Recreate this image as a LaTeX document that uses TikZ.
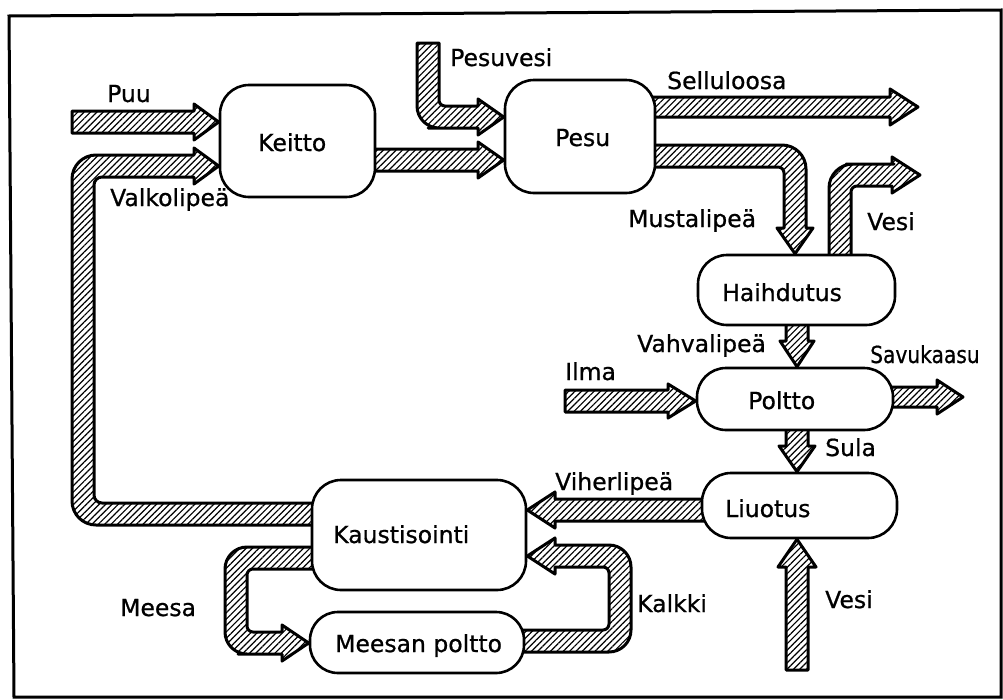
\documentclass[tikz,border=0pt]{standalone}
\usepackage{fontspec}
\setmainfont{DejaVu Sans}[RawFeature={embolden=0.8}]
\usetikzlibrary{patterns.meta,backgrounds}
\tikzset{
  band/.style={draw=black, line width=3pt, line join=round, pattern={Lines[angle=45,distance=4.5pt,line width=1.2pt]}},
  procbox/.style={draw=black, line width=2.6pt, fill=white, rounded corners=29pt, inner sep=0pt},
  lbl/.style={inner sep=0pt, anchor=base west, font=\fontsize{23.5}{28}\selectfont},
}
\begin{document}
\begin{tikzpicture}[x=1pt,y=-1pt]
\useasboundingbox (0,0) rectangle (1003,699);
% frame
\draw[line width=3pt] (9,16) -- (1001,10) -- (1001,697) -- (14,697) -- cycle;

% process boxes
\node[procbox, minimum width=155pt, minimum height=112pt] (kei) at (297.5,141) {};
\node[procbox, minimum width=150pt, minimum height=113pt] (pes) at (580,136.5) {};
\node[procbox, minimum width=197pt, minimum height=70pt] (hai) at (796.5,290) {};
\node[procbox, minimum width=196pt, minimum height=62pt] (pol) at (795,399) {};
\node[procbox, minimum width=195pt, minimum height=65pt] (liu) at (799.5,505.5) {};
\node[procbox, minimum width=214pt, minimum height=110pt] (kau) at (419,535) {};
\node[procbox, minimum width=214pt, minimum height=61pt, rounded corners=28pt] (mee) at (417,642.5) {};

% box texts
\node[lbl] (tkei) at (258,151) {Keitto};
\node[lbl] (tpes) at (555,146) {Pesu};
\node[lbl] (thai) at (722,301) {Haihdutus};
\node[lbl] (tpol) at (748,409) {Poltto};
\node[lbl] (tliu) at (725,517) {Liuotus};
\node[lbl] (tkau) at (333,543) {Kaustisointi};
\node[lbl] (tmee) at (335,652) {Meesan poltto};

% flow labels
\node[lbl] (lpuu) at (107,102) {Puu};
\node[lbl] (lval) at (110,206) {Valkolipeä};
\node[lbl] (lpsv) at (450,66) {Pesuvesi};
\node[lbl] (lsel) at (667,89) {Selluloosa};
\node[lbl] (lmus) at (628,227) {Mustalipeä};
\node[lbl] (lves1) at (867,230) {Vesi};
\node[lbl] (lvah) at (637,352) {Vahvalipeä};
\node[lbl] (lilm) at (565,380) {Ilma};
\node[lbl] (lsav) at (870,363) {\scalebox{0.86}[1]{Savukaasu}};
\node[lbl] (lsul) at (825,456) {Sula};
\node[lbl] (lvih) at (555,490) {Viherlipeä};
\node[lbl] (lves2) at (825,608) {Vesi};
\node[lbl] (lmee) at (120,616) {Meesa};
\node[lbl] (lkal) at (637,612) {Kalkki};

% free ends
\coordinate (puuIn) at (72,122);
\coordinate (sellOut) at (918,107);
\coordinate (vesiOut) at (920,175);
\coordinate (ilmaIn) at (565,401);
\coordinate (savOut) at (963,397);
\coordinate (vesiIn) at (797,670);
\coordinate (pesvIn) at (428,43);

\begin{scope}[on background layer]
% Puu
\draw[band] (puuIn |- 0,111) -- (194,111) -- (194,104) -- (kei.west |- 0,122) -- (194,140) -- (194,133) -- (puuIn |- 0,133) -- cycle;
% Valkolipea
\draw[band] (322,503) -- (200,503) [rounded corners=8pt] -- (94,503) -- (94,177) -- (150,177) [sharp corners] -- (194,177) -- (194,184) -- (kei.west |- 0,166) -- (194,148) -- (194,155) -- (150,155) [rounded corners=24pt] -- (72,155) -- (72,525) -- (200,525) [sharp corners] -- (322,525) -- cycle;
% Keitto -> Pesu
\draw[band] (365,149) -- (478,149) -- (478,142) -- (pes.west |- 0,160) -- (478,178) -- (478,171) -- (365,171) -- cycle;
% Pesuvesi
\draw[band] (417,0 |- pesvIn) -- (417,80) [rounded corners=22pt] -- (417,128) -- (450,128) [sharp corners] -- (478,128) -- (478,135) -- (pes.west |- 0,117) -- (478,99) -- (478,106) -- (460,106) [rounded corners=6pt] -- (439,106) -- (439,80) [sharp corners] -- (439,0 |- pesvIn) -- cycle;
% Selluloosa
\draw[band] (645,97) -- (890,97) -- (890,89) -- (sellOut) -- (890,125) -- (890,117) -- (645,117) -- cycle;
% Mustalipea
\draw[band] (645,145) -- (750,145) [rounded corners=24pt] -- (806,145) -- (806,200) [sharp corners] -- (806,228) -- (813,228) -- (795,0 |- hai.north) -- (777,228) -- (784,228) -- (784,200) [rounded corners=6pt] -- (784,167) -- (750,167) [sharp corners] -- (645,167) -- cycle;
% Vesi (haihdutus)
\draw[band] (829,265) -- (829,220) [rounded corners=24pt] -- (829,164) -- (870,164) [sharp corners] -- (892,164) -- (892,157) -- (vesiOut) -- (892,193) -- (892,186) -- (870,186) [rounded corners=6pt] -- (851,186) -- (851,220) [sharp corners] -- (851,265) -- cycle;
% Vahvalipea
\draw[band] (786,315) -- (786,341) -- (780,341) -- (797,0 |- pol.north) -- (814,341) -- (808,341) -- (808,315) -- cycle;
% Ilma
\draw[band] (ilmaIn |- 0,390) -- (668,390) -- (668,384) -- (pol.west |- 0,401) -- (668,418) -- (668,412) -- (ilmaIn |- 0,412) -- cycle;
% Savukaasu
\draw[band] (883,387) -- (937,387) -- (937,380) -- (savOut) -- (937,414) -- (937,407) -- (883,407) -- cycle;
% Sula
\draw[band] (786,420) -- (786,446) -- (779,446) -- (797,0 |- liu.north) -- (815,446) -- (808,446) -- (808,420) -- cycle;
% Viherlipea
\draw[band] (712,499) -- (555,499) -- (555,492) -- (kau.east |- 0,510) -- (555,528) -- (555,521) -- (712,521) -- cycle;
% Vesi (liuotus)
\draw[band] (786,0 |- vesiIn) -- (786,567) -- (778,567) -- (797,0 |- liu.south) -- (816,567) -- (808,567) -- (808,0 |- vesiIn) -- cycle;
% Meesa
\draw[band] (320,547) -- (280,547) [rounded corners=22pt] -- (225,547) -- (225,654) -- (260,654) [sharp corners] -- (282,654) -- (282,661) -- (mee.west |- 0,643) -- (282,625) -- (282,632) -- (265,632) [rounded corners=6pt] -- (247,632) -- (247,569) -- (280,569) [sharp corners] -- (320,569) -- cycle;
% Kalkki
\draw[band] (516,630) -- (590,630) [rounded corners=6pt] -- (609,630) -- (609,567) -- (590,567) [sharp corners] -- (555,567) -- (555,574) -- (kau.east |- 0,556) -- (555,538) -- (555,545) -- (580,545) [rounded corners=22pt] -- (631,545) -- (631,652) -- (580,652) [sharp corners] -- (516,652) -- cycle;
\end{scope}
\end{tikzpicture}
\end{document}
